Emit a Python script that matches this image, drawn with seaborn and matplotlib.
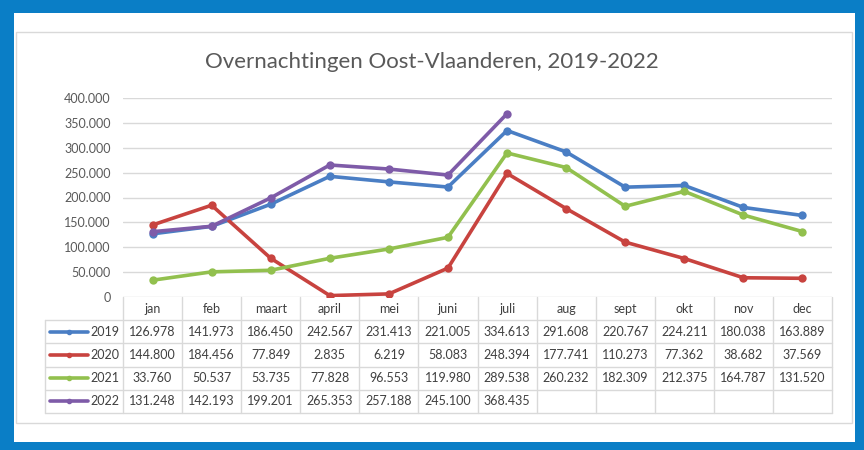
import matplotlib
matplotlib.use('Agg')
import matplotlib.pyplot as plt
from matplotlib.patches import Rectangle
import numpy as np
import pandas as pd
import seaborn as sns

months = ['jan', 'feb', 'maart', 'april', 'mei', 'juni', 'juli', 'aug', 'sept', 'okt', 'nov', 'dec']
years = ['2019', '2020', '2021', '2022']
v2019 = [126978, 141973, 186450, 242567, 231413, 221005, 334613, 291608, 220767, 224211, 180038, 163889]
v2020 = [144800, 184456, 77849, 2835, 6219, 58083, 248394, 177741, 110273, 77362, 38682, 37569]
v2021 = [33760, 50537, 53735, 77828, 96553, 119980, 289538, 260232, 182309, 212375, 164787, 131520]
v2022 = [131248, 142193, 199201, 265353, 257188, 245100, 368435, None, None, None, None, None]
yticks = [0, 50000, 100000, 150000, 200000, 250000, 300000, 350000, 400000]
colors = ['#4A7EC4', '#C8433F', '#92C04E', '#7E5BA8']

def nl(v):
  # dutch thousands separator
  return f"{v:,}".replace(',', '.')

sns.set_theme(style='white')
plt.rcParams['font.family'] = ['Lato', 'DejaVu Sans']

W, H = 864, 450
fig = plt.figure(figsize=(W / 100, H / 100), dpi=100)
fig.patch.set_facecolor('#0A7EC6')

def px_rect(x0, y0, x1, y1, **kw):
  return Rectangle((x0 / W, 1 - y1 / H), (x1 - x0) / W, (y1 - y0) / H,
                   transform=fig.transFigure, **kw)

fig.add_artist(px_rect(14, 13, 855, 442, facecolor='white', edgecolor='none', zorder=0))
fig.add_artist(px_rect(16, 32, 852, 423, facecolor='white', edgecolor='#D9D9D9', lw=1, zorder=0))

left, right, top, bottom = 123, 832, 98, 297
ax = fig.add_axes([left / W, 1 - bottom / H, (right - left) / W, (bottom - top) / H])
ax.set_facecolor('none')

data = pd.DataFrame({'pos': np.arange(12)})
series = [v2019, v2020, v2021, v2022]
for year, vals, c in zip(years, series, colors):
  df = pd.DataFrame({'pos': np.arange(12), 'value': pd.array(vals, dtype='Float64')}).dropna()
  df['value'] = df['value'].astype(float)
  sns.lineplot(data=df, x='pos', y='value', color=c, lw=2.6, marker='o',
               markersize=6, markeredgewidth=0, ax=ax, zorder=3)

ax.set_xlim(-0.5, 11.5)
ax.set_ylim(0, 400000)
ax.set_yticks(yticks)
ax.set_yticklabels([nl(v) for v in yticks])
ax.set_xticks([])
ax.set_xlabel('')
ax.set_ylabel('')
ax.tick_params(axis='y', length=0, pad=9, labelsize=9, labelcolor='#595959')
ax.grid(axis='y', color='#D9D9D9', lw=1)
for s in ax.spines.values():
  s.set_visible(False)

fig.text(432 / W, 1 - 62 / H, 'Overnachtingen Oost-Vlaanderen, 2019-2022',
         ha='center', va='center', fontsize=16, color='#595959')

# data table below the plot
pw = right - left
ph = bottom - top
rh = 23.2 / ph
x_first = (45 - left) / pw
xt = ax.get_xaxis_transform()
grid = dict(color='#D9D9D9', lw=1, clip_on=False, zorder=1)
for k in range(13):
  ax.plot([k - 0.5, k - 0.5], [0, -5 * rh], transform=xt, **grid)
for r in range(1, 6):
  ax.plot([x_first, 1], [-r * rh, -r * rh], transform=ax.transAxes, **grid)
ax.plot([x_first, x_first], [-rh, -5 * rh], transform=ax.transAxes, **grid)

tcol = '#404040'
for i, m in enumerate(months):
  ax.text(i, -0.5 * rh, m, transform=xt, ha='center', va='center', fontsize=9, color=tcol)
for r, (year, vals, c) in enumerate(zip(years, series, colors)):
  yc = -(r + 1.5) * rh
  ax.plot([(50 - left) / pw, (69 - left) / pw, (88 - left) / pw], [yc, yc, yc],
          transform=ax.transAxes, color=c, lw=2.6, marker='o', markersize=3,
          markevery=[1], clip_on=False)
  ax.text((90 - left) / pw, yc, year, transform=ax.transAxes, ha='left', va='center',
          fontsize=9, color=tcol)
  for i, v in enumerate(vals):
    if v is not None:
      ax.text(i, yc, nl(v), transform=xt, ha='center', va='center', fontsize=9, color=tcol)

fig.savefig('out.png', dpi=100)
